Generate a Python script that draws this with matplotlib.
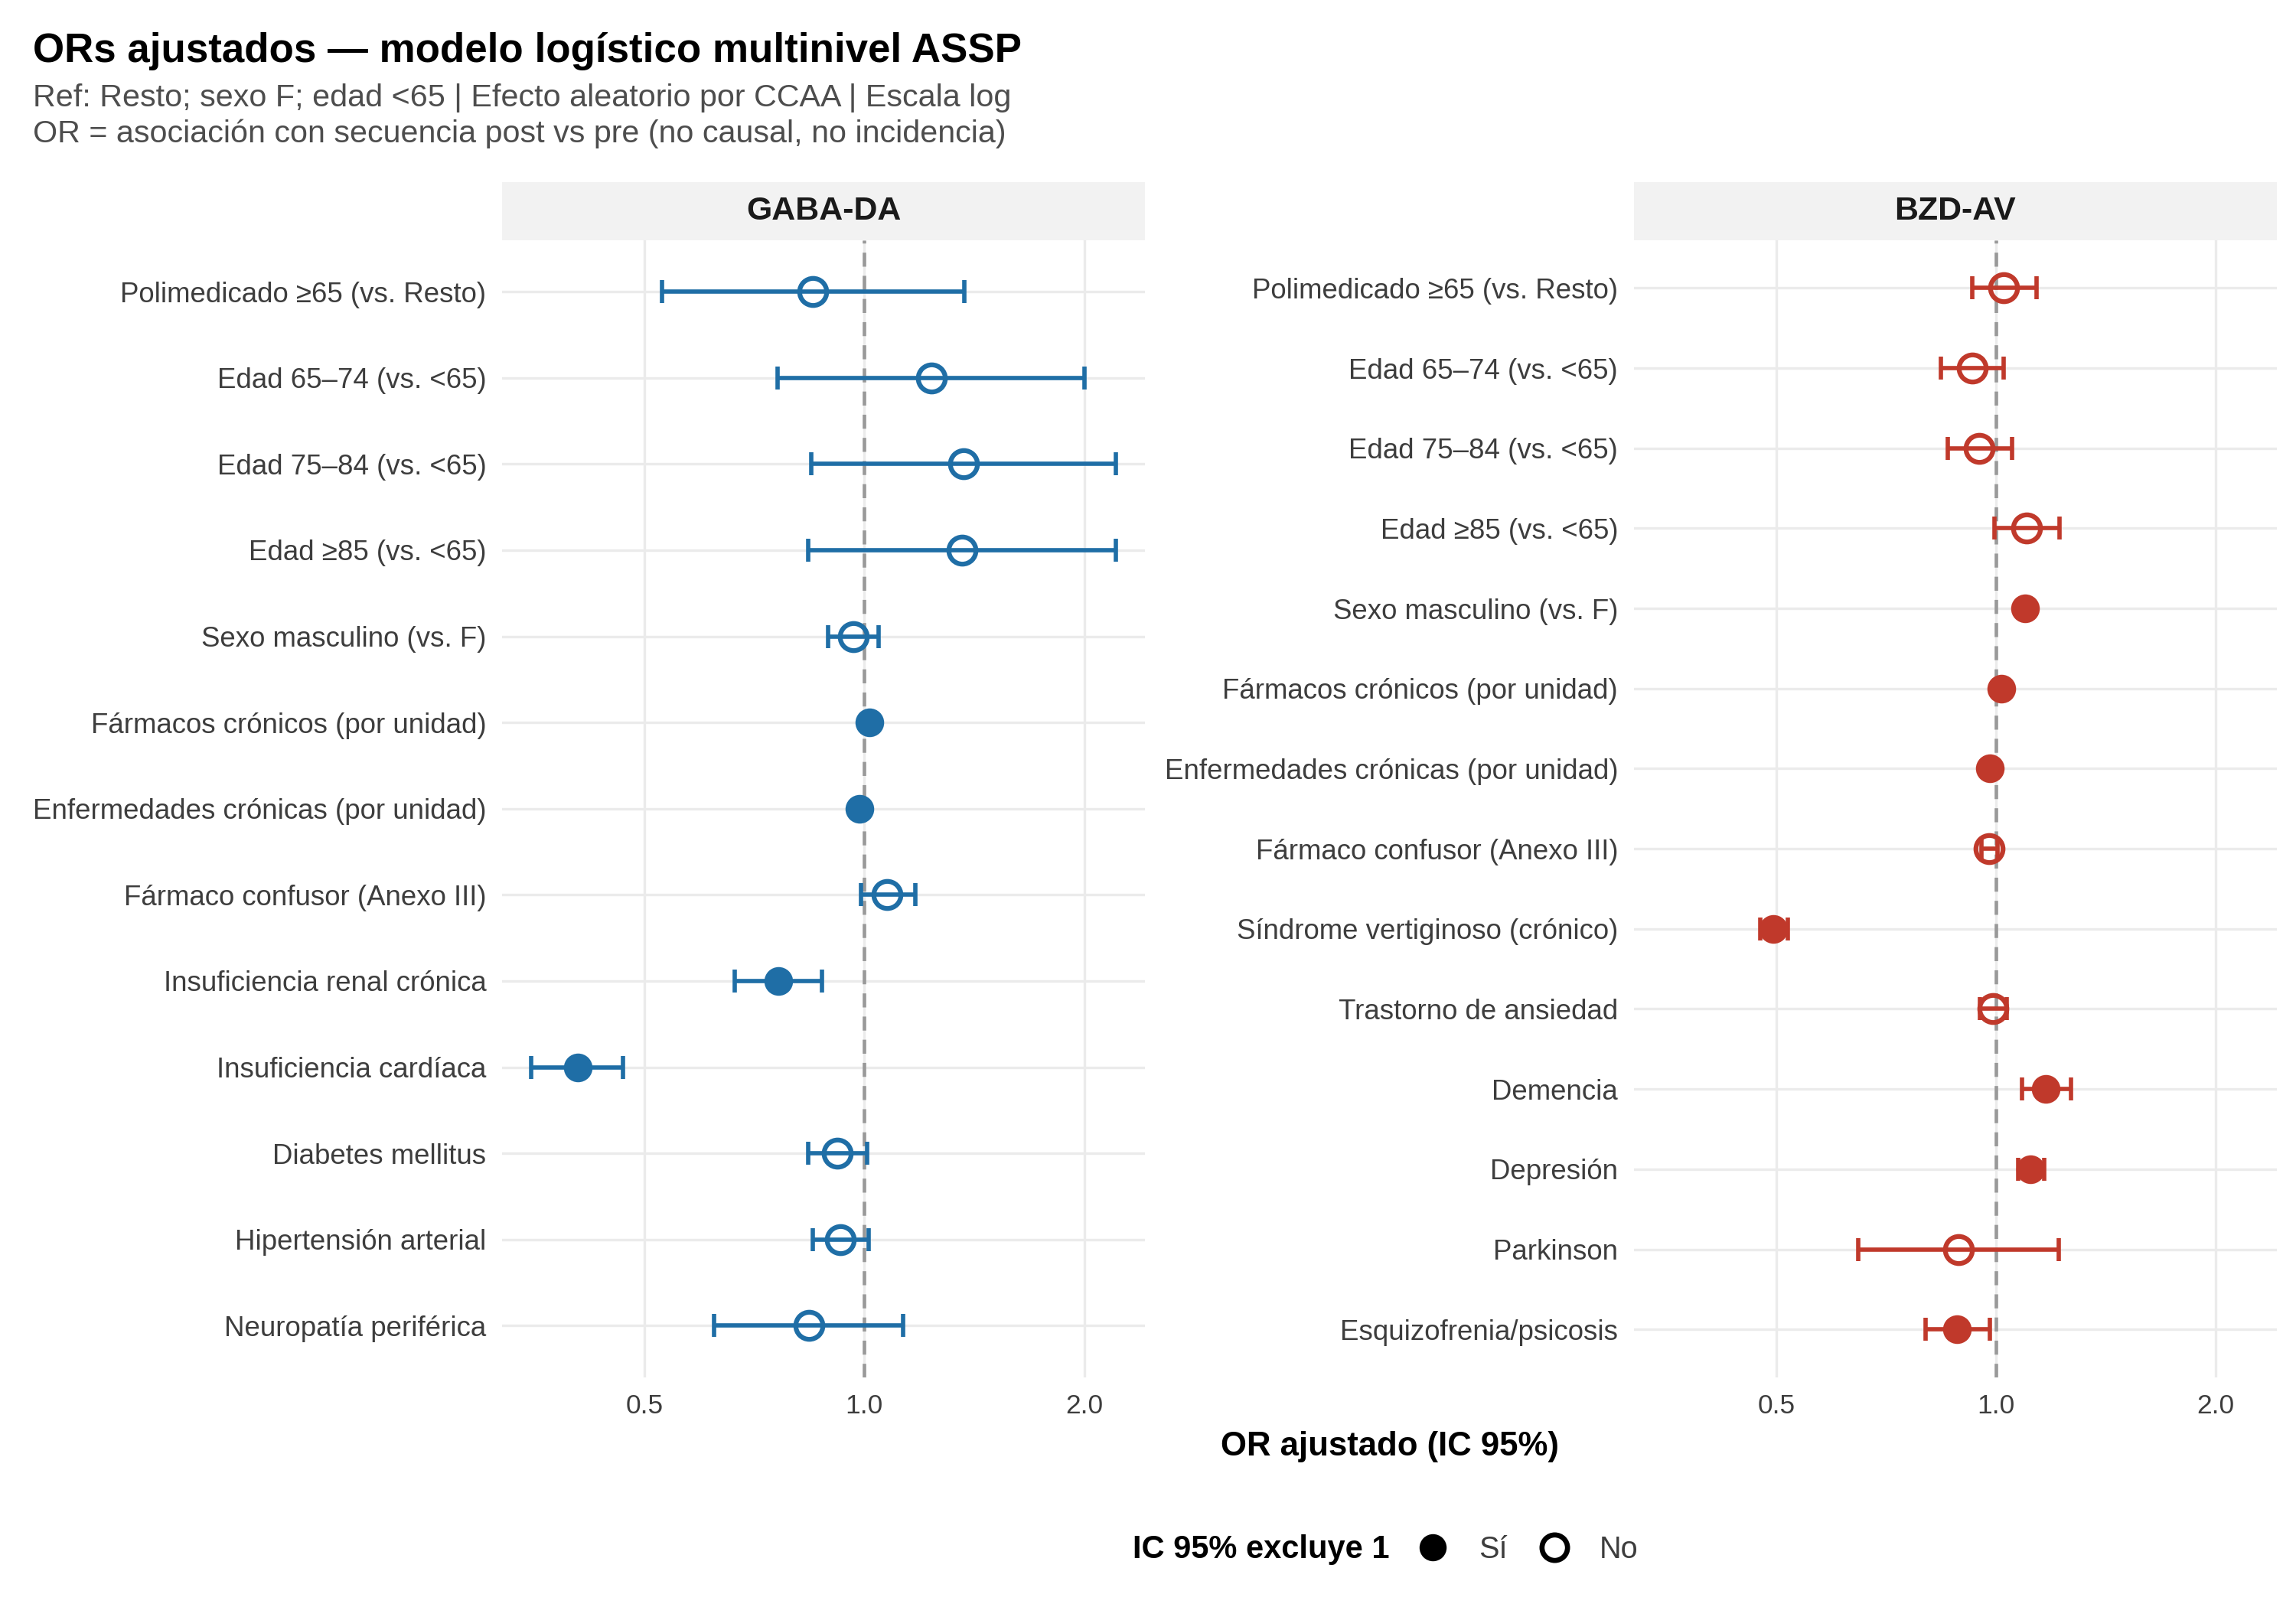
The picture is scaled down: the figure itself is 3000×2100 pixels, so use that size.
import matplotlib
matplotlib.use("Agg")
import matplotlib.pyplot as plt
import numpy as np
from matplotlib.lines import Line2D

plt.rcParams['font.family'] = ['Liberation Sans', 'DejaVu Sans']

# GABA-DA panel (top to bottom)
gaba_labels = ["Polimedicado ≥65 (vs. Resto)", "Edad 65–74 (vs. <65)", "Edad 75–84 (vs. <65)",
               "Edad ≥85 (vs. <65)", "Sexo masculino (vs. F)", "Fármacos crónicos (por unidad)",
               "Enfermedades crónicas (por unidad)", "Fármaco confusor (Anexo III)",
               "Insuficiencia renal crónica", "Insuficiencia cardíaca", "Diabetes mellitus",
               "Hipertensión arterial", "Neuropatía periférica"]
gaba_or = [0.85, 1.235, 1.367, 1.362, 0.965, 1.015, 0.986, 1.075, 0.762, 0.405, 0.918, 0.927, 0.84]
gaba_lo = [0.528, 0.761, 0.845, 0.838, 0.893, 1.005, 0.978, 0.99, 0.665, 0.350, 0.838, 0.85, 0.623]
gaba_hi = [1.37, 2.0, 2.21, 2.21, 1.045, 1.025, 0.994, 1.175, 0.874, 0.467, 1.01, 1.013, 1.13]
gaba_sig = [False, False, False, False, False, True, True, False, True, True, False, False, False]

# BZD-AV panel (top to bottom)
bzd_labels = ["Polimedicado ≥65 (vs. Resto)", "Edad 65–74 (vs. <65)", "Edad 75–84 (vs. <65)",
              "Edad ≥85 (vs. <65)", "Sexo masculino (vs. F)", "Fármacos crónicos (por unidad)",
              "Enfermedades crónicas (por unidad)", "Fármaco confusor (Anexo III)",
              "Síndrome vertiginoso (crónico)", "Trastorno de ansiedad", "Demencia", "Depresión",
              "Parkinson", "Esquizofrenia/psicosis"]
bzd_or = [1.025, 0.927, 0.949, 1.102, 1.096, 1.016, 0.981, 0.978, 0.496, 0.99, 1.17, 1.115, 0.889, 0.885]
bzd_lo = [0.928, 0.84, 0.858, 0.994, 1.08, 1.01, 0.975, 0.955, 0.475, 0.95, 1.085, 1.072, 0.648, 0.801]
bzd_hi = [1.135, 1.024, 1.051, 1.223, 1.112, 1.022, 0.987, 1.005, 0.519, 1.034, 1.267, 1.165, 1.218, 0.98]
bzd_sig = [False, False, False, False, True, True, True, False, True, False, True, True, False, True]

BLUE = "#1F6EA6"
RED = "#C0392B"
TXT = "#3D3D3D"

# shared log x-limits with 5% expansion like ggplot
allv = np.log2(np.array(gaba_lo + gaba_hi + bzd_lo + bzd_hi))
rng = allv.max() - allv.min()
xlim = (2 ** (allv.min() - 0.05 * rng), 2 ** (allv.max() + 0.05 * rng))

fig = plt.figure(figsize=(10, 7), dpi=300)

W, H = 1550.0, 1085.0
bottom = 1 - 930 / H
top = 1 - 162 / H
strip_top = 1 - 123 / H
panels = [
    ("GABA-DA", 339, 773, gaba_labels, gaba_or, gaba_lo, gaba_hi, gaba_sig, BLUE),
    ("BZD-AV", 1103, 1537, bzd_labels, bzd_or, bzd_lo, bzd_hi, bzd_sig, RED),
]

for name, x0, x1, labels, ors, lo, hi, sig, col in panels:
    ax = fig.add_axes([x0 / W, bottom, (x1 - x0) / W, top - bottom])
    n = len(labels)
    y = np.arange(n)[::-1]
    ax.set_xscale('log')
    ax.set_xlim(*xlim)
    ax.set_ylim(-0.6, n - 0.4)
    ax.set_xticks([0.5, 1.0, 2.0])
    ax.set_xticklabels(["0.5", "1.0", "2.0"])
    ax.xaxis.set_minor_locator(matplotlib.ticker.NullLocator())
    ax.set_yticks(y)
    ax.set_yticklabels(labels)
    ax.tick_params(axis='both', length=0, colors=TXT)
    ax.tick_params(axis='y', labelsize=8.8, pad=5)
    ax.tick_params(axis='x', labelsize=8.5, pad=5)
    ax.grid(True, color="#EBEBEB", linewidth=0.8)
    ax.set_axisbelow(True)
    for s in ax.spines.values():
        s.set_visible(False)
    ax.axvline(1.0, color="#999999", linewidth=1.1, linestyle=(0, (4, 2.6)), zorder=1)

    ors = np.array(ors)
    lo = np.array(lo)
    hi = np.array(hi)
    sig = np.array(sig)
    ax.errorbar(ors, y, xerr=[ors - lo, hi - ors], fmt='none', ecolor=col,
                elinewidth=1.35, capsize=3.7, capthick=1.35, zorder=2)
    ax.plot(ors[sig], y[sig], 'o', color=col, markersize=9, markeredgewidth=0, zorder=3)
    ax.plot(ors[~sig], y[~sig], 'o', markerfacecolor='none', markeredgecolor=col,
            markersize=8.5, markeredgewidth=1.5, zorder=3)

    # facet strip
    sax = fig.add_axes([x0 / W, top, (x1 - x0) / W, strip_top - top])
    sax.set_facecolor("#F2F2F2")
    sax.set_xticks([])
    sax.set_yticks([])
    for s in sax.spines.values():
        s.set_visible(False)
    sax.text(0.5, 0.5, name, ha='center', va='center', fontsize=10.3,
             fontweight='bold', color="#1A1A1A", transform=sax.transAxes)

fig.text(22 / W, 1 - 42 / H, "ORs ajustados — modelo logístico multinivel ASSP",
         fontsize=12.7, fontweight='bold', color='black', va='baseline')
fig.text(22 / W, 1 - 72 / H, "Ref: Resto; sexo F; edad <65 | Efecto aleatorio por CCAA | Escala log",
         fontsize=9.9, color="#4D4D4D", va='baseline')
fig.text(22 / W, 1 - 96 / H, "OR = asociación con secuencia post vs pre (no causal, no incidencia)",
         fontsize=9.9, color="#4D4D4D", va='baseline')

fig.text(938 / W, 1 - 977 / H, "OR ajustado (IC 95%)", fontsize=10.5, fontweight='bold',
         ha='center', va='center', color='black')

# legend
fig.text(938 / W, 1 - 1046 / H, "IC 95% excluye 1", fontsize=10, fontweight='bold',
         ha='right', va='center', color='black')
handles = [
    Line2D([], [], marker='o', linestyle='none', color='black', markersize=8.5, markeredgewidth=0),
    Line2D([], [], marker='o', linestyle='none', markerfacecolor='none', markeredgecolor='black',
           markersize=8, markeredgewidth=1.6),
]
fig.legend(handles, ["Sí", "No"], loc='center left', bbox_to_anchor=(951 / W, 1 - 1046 / H),
           ncol=2, frameon=False, fontsize=9.5, handlelength=1.2, handletextpad=0.9,
           columnspacing=0.95, labelcolor=TXT, borderpad=0.2, borderaxespad=0.0)

fig.savefig("out.png", dpi=300, facecolor='white')
